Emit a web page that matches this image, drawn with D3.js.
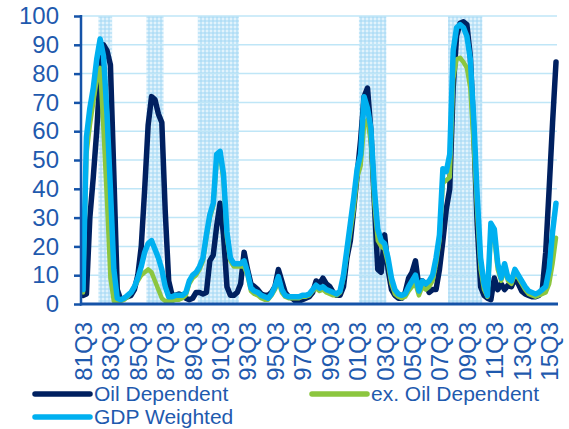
<!DOCTYPE html>
<html><head><meta charset="utf-8">
<script src="https://cdn.jsdelivr.net/npm/d3@7"></script>
<style>
html,body{margin:0;padding:0;background:#fff;}
svg{display:block;font-family:"Liberation Sans",Arial,sans-serif;}
</style></head>
<body><svg id="chart" width="569" height="429"></svg>
<script>
const quarters = [
"81Q3","81Q4",
"82Q1","82Q2","82Q3","82Q4","83Q1","83Q2","83Q3","83Q4",
"84Q1","84Q2","84Q3","84Q4","85Q1","85Q2","85Q3","85Q4",
"86Q1","86Q2","86Q3","86Q4","87Q1","87Q2","87Q3","87Q4",
"88Q1","88Q2","88Q3","88Q4","89Q1","89Q2","89Q3","89Q4",
"90Q1","90Q2","90Q3","90Q4","91Q1","91Q2","91Q3","91Q4",
"92Q1","92Q2","92Q3","92Q4","93Q1","93Q2","93Q3","93Q4",
"94Q1","94Q2","94Q3","94Q4","95Q1","95Q2","95Q3","95Q4",
"96Q1","96Q2","96Q3","96Q4","97Q1","97Q2","97Q3","97Q4",
"98Q1","98Q2","98Q3","98Q4","99Q1","99Q2","99Q3","99Q4",
"00Q1","00Q2","00Q3","00Q4","01Q1","01Q2","01Q3","01Q4",
"02Q1","02Q2","02Q3","02Q4","03Q1","03Q2","03Q3","03Q4",
"04Q1","04Q2","04Q3","04Q4","05Q1","05Q2","05Q3","05Q4",
"06Q1","06Q2","06Q3","06Q4","07Q1","07Q2","07Q3","07Q4",
"08Q1","08Q2","08Q3","08Q4","09Q1","09Q2","09Q3","09Q4",
"10Q1","10Q2","10Q3","10Q4","11Q1","11Q2","11Q3","11Q4",
"12Q1","12Q2","12Q3","12Q4","13Q1","13Q2","13Q3","13Q4",
"14Q1","14Q2","14Q3","14Q4","15Q1","15Q2","15Q3","15Q4",
"16Q1"];

const tickLabels = ["81Q3","83Q3","85Q3","87Q3","89Q3","91Q3","93Q3","95Q3","97Q3","99Q3","01Q3","03Q3","05Q3","07Q3","09Q3","11Q3","13Q3","15Q3"];
const yTicks = [0,10,20,30,40,50,60,70,80,90,100];

const oilDependent = [
3,3.5,30,44,60,80,90,88,83,45,
5,1.5,2,2.5,3,5,10,20,40,62,
72,71,66,63,32,8,3,3,3.5,3,
2,1.5,2,4,4,3.5,4,15,17,27,
35,24,6,3,3,4,7,18,12,7,
6,5,3.5,3,3,4,6,12,8,4,
2.5,2,1,1,1.5,2,2.5,4,8,7,
9,7,6,4,3,3,6,16,22,33,
45,57,72,75,60,35,12,11,24,12,
5,3,2,2,4,9,11,15,6,8,
7,4,5,5,12,22,33,40,75,93,
97.5,98,97,86,60,28,6,3,2,1.5,
9,5,7,5,6.5,6,9,7,4.5,3.5,
3,2.5,2.5,3,5,18,40,63,84];

const exOilDependent = [
4,52,62,70,78,82,60,36,9,1,
0.5,1,1.5,2.5,4,6,8,10,11,12,
11,8,5,2,1,1,1,1.5,1.5,2,
3,7,9,10,12,15,23,30,34,50,
52,43,23,15,13,13,13,13,10,4.5,
3.5,3,2,1.5,1.5,3,5,8,4,2.5,
2,2,2,2,2.5,2.5,3,4.5,5.5,4.5,
5,4,3.5,3,3,4,9,17,25,33,
44,48,62,64,56,35,22,20,19,14,
7,3.5,2.5,2,2.5,4.5,6,7,3,6,
5,6,8,14,22,42,43,44,78,85,
85.5,84,82,75,55,32,12,5,2.5,25,
23,12,8,12,8,7,10.5,9,7,5,
3.5,3,2.5,3,3.5,4,7,14,23];

const gdpWeighted = [
5,58,68,75,85,92,86,66,40,12,
2,1.5,2,3,4,6,9,13,18,21,
22,19,16,12,6,2.5,2.5,3,3,3,
4,8,10,11,13,16,24,31,35,52,
53,45,25,16,14,14,14,15,11,5.5,
4.5,4,3,2.5,2,3.5,6,9.5,5,3,
2.5,2.5,2.5,2.5,3,3,3.5,5,6.5,5.5,
6,5,4.5,4,3.5,4.5,10,19,28,37,
47,52,72,68,61,40,26,22,21,16,
9,5,3.5,3,3.5,6,8,10,4.5,8,
7,8,10,16,24,47,46,52,88,96,
97,96,93,85,64,38,16,7,3,28,
26,14,9,14,9,8,12,10,8,6,
4.5,4,3.5,4,5,6,12,25,35];

const recessionStart = ["82Q4","86Q2","90Q1","01Q4","08Q2"];
const recessionEnd   = ["83Q3","87Q2","92Q4","03Q3","10Q3"];

const seriesNames = ["Oil Dependent","ex. Oil Dependent","GDP Weighted"];
const seriesColors = ["#002060","#8CC63F","#00B0F0"];

const svg = d3.select("#chart");
const x = d3.scalePoint().domain(quarters).range([83, 556]);
const y = d3.scaleLinear().domain([0,100]).range([304, 16]);
const step = x.step();

const defs = svg.append("defs");
const pat = defs.append("pattern").attr("id","gingham").attr("patternUnits","userSpaceOnUse")
  .attr("width",4).attr("height",4);
pat.append("rect").attr("width",4).attr("height",4).attr("fill","#e2f3fc");
pat.append("rect").attr("width",4).attr("height",2).attr("fill","#a6d9f3").attr("opacity",0.55);
pat.append("rect").attr("width",2).attr("height",4).attr("fill","#a6d9f3").attr("opacity",0.55);

// recession bands
svg.append("g").selectAll("rect").data(recessionStart.map((s,i)=>[s,recessionEnd[i]])).join("rect")
  .attr("x", d => x(d[0]) - step/2)
  .attr("width", d => x(d[1]) - x(d[0]) + step)
  .attr("y", y(100))
  .attr("height", y(0) - y(100))
  .attr("fill","url(#gingham)");

// gridlines
svg.append("g").selectAll("line").data(yTicks.filter(v=>v>0)).join("line")
  .attr("x1", 82).attr("x2", 557)
  .attr("y1", d => y(d)).attr("y2", d => y(d))
  .attr("stroke","#bfe6f7").attr("stroke-width",1.5);

// lines
const line = d3.line().x((d,i)=>x(quarters[i])).y(d=>y(d)).curve(d3.curveLinear);
const data = [oilDependent, exOilDependent, gdpWeighted];
const widths = [5.5, 4.5, 5.5];
svg.append("g").selectAll("path").data(data).join("path")
  .attr("d", d => line(d))
  .attr("fill","none")
  .attr("stroke",(d,i)=>seriesColors[i])
  .attr("stroke-width",(d,i)=>widths[i])
  .attr("stroke-linejoin","round")
  .attr("stroke-linecap","round");

// y axis
const yAxis = svg.append("g").attr("transform","translate(81,0)")
  .call(d3.axisLeft(y).tickValues(yTicks).tickSize(7).tickPadding(15).tickSizeOuter(0));
yAxis.select(".domain").remove();
yAxis.selectAll(".tick line").attr("stroke","#1553A8").attr("stroke-width",2.5);
yAxis.selectAll("text").attr("fill","#1F5AAE").style("font-size","24px")
  .style("font-family","'Liberation Sans', Arial, sans-serif");
svg.append("line").attr("x1",81).attr("x2",81).attr("y1",y(100)-1).attr("y2",y(0)+1.5)
  .attr("stroke","#1553A8").attr("stroke-width",2.5);

// x axis
const xAxis = svg.append("g").attr("transform","translate(0,304)")
  .call(d3.axisBottom(x).tickValues(tickLabels).tickSize(0).tickSizeOuter(0));
xAxis.select(".domain").remove();
xAxis.selectAll("text")
  .attr("transform","rotate(-90)")
  .attr("text-anchor","end")
  .attr("x",-18).attr("y",0).attr("dy","0.35em")
  .attr("fill","#1F5AAE").style("font-size","24px")
  .style("font-family","'Liberation Sans', Arial, sans-serif");
svg.append("line").attr("x1",80).attr("x2",558).attr("y1",304).attr("y2",304)
  .attr("stroke","#1553A8").attr("stroke-width",3);

// legend
const legendItems = [
  {name: seriesNames[0], color: seriesColors[0], lx: 35, ly: 394},
  {name: seriesNames[1], color: seriesColors[1], lx: 312, ly: 394},
  {name: seriesNames[2], color: seriesColors[2], lx: 35, ly: 417}
];
const lg = svg.append("g").selectAll("g").data(legendItems).join("g");
lg.append("line").attr("x1",d=>d.lx).attr("x2",d=>d.lx+55).attr("y1",d=>d.ly).attr("y2",d=>d.ly)
  .attr("stroke",d=>d.color).attr("stroke-width",5.5).attr("stroke-linecap","round");
lg.append("text").attr("x",d=>d.lx+59).attr("y",d=>d.ly+7)
  .attr("fill","#1F5AAE").style("font-size","21px").text(d=>d.name);
</script></body></html>
